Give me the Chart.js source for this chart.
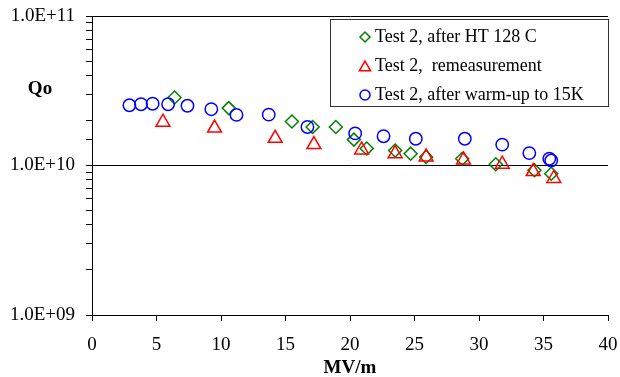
<!DOCTYPE html>
<html>
<head>
<meta charset="utf-8">
<script src="https://cdn.jsdelivr.net/npm/chart.js@4/dist/chart.umd.min.js"></script>
<style>
  html, body { margin:0; padding:0; background:#fff; }
  #c { display:block; }
</style>
</head>
<body>
<canvas id="c" width="620" height="377"></canvas>
<script>
// Test 2, after HT 128 C
const htX = [6.4, 10.6, 15.5, 17.1, 18.9, 20.3, 21.3, 23.5, 24.7, 25.9, 28.7, 31.3, 34.3, 35.6];
const htQ = [2.85e10, 2.42e10, 1.97e10, 1.81e10, 1.81e10, 1.49e10, 1.30e10, 1.26e10, 1.20e10, 1.14e10, 1.11e10, 1.02e10, 9.3e9, 8.8e9];
// Test 2, remeasurement
const remX = [5.5, 9.5, 14.2, 17.2, 20.9, 23.5, 25.9, 28.8, 31.8, 34.2, 35.8];
const remQ = [1.95e10, 1.78e10, 1.52e10, 1.38e10, 1.27e10, 1.20e10, 1.14e10, 1.09e10, 1.02e10, 9.1e9, 8.2e9];
// Test 2, after warm-up to 15K
const wuX = [2.9, 3.8, 4.7, 5.9, 7.4, 9.25, 11.2, 13.7, 16.7, 20.4, 22.6, 25.1, 28.9, 31.8, 33.9, 35.45, 35.6];
const wuQ = [2.53e10, 2.57e10, 2.59e10, 2.57e10, 2.51e10, 2.38e10, 2.18e10, 2.19e10, 1.81e10, 1.64e10, 1.57e10, 1.51e10, 1.51e10, 1.38e10, 1.21e10, 1.11e10, 1.08e10];

const seriesLabels = ['Test 2, after HT 128 C', 'Test 2,  remeasurement', 'Test 2, after warm-up to 15K'];
const xTicks = [0, 5, 10, 15, 20, 25, 30, 35, 40];

const FONT = "'Liberation Serif', 'Times New Roman', serif";
const pts = (xs, ys) => xs.map((x, i) => ({ x, y: ys[i] }));
const isDecade = v => Math.abs(Math.log10(v) - Math.round(Math.log10(v))) < 1e-9;
// Excel style: 1.0E+09
const sci = v => {
  const e = Math.round(Math.log10(v));
  return (v / Math.pow(10, e)).toFixed(1) + 'E+' + String(e).padStart(2, '0');
};

const legendMarks = [
  { style:'rectRot', color:'#008000', r:5 },
  { style:'triangle', color:'#ff0000', r:6.5 },
  { style:'circle', color:'#0000ff', r:5 }
];

const overlay = {
  id: 'overlay',
  afterDraw(chart) {
    const ctx = chart.ctx;
    ctx.save();
    // y label
    ctx.fillStyle = '#000';
    ctx.font = "bold 19px " + FONT;
    ctx.textAlign = 'center'; ctx.textBaseline = 'middle';
    ctx.fillText('Qo', 40, 89);
    // legend box
    ctx.fillStyle = '#fff';
    ctx.fillRect(330, 19, 279, 88);
    ctx.strokeStyle = '#333'; ctx.lineWidth = 1;
    ctx.strokeRect(330.5, 19.5, 278, 87);
    ctx.font = "18px " + FONT;
    ctx.textAlign = 'left';
    seriesLabels.forEach((lab, i) => {
      const y = 37 + i * 29;
      const m = legendMarks[i];
      ctx.strokeStyle = m.color; ctx.fillStyle = 'rgba(0,0,0,0)'; ctx.lineWidth = 1.5;
      Chart.helpers.drawPoint(ctx, { pointStyle:m.style, radius:m.r, rotation:0, borderWidth:1.5 }, 365, y + (m.style === 'triangle' ? 1.5 : 0));
      ctx.fillStyle = '#000';
      ctx.fillText(lab, 375, y);
    });
    ctx.restore();
  }
};

new Chart(document.getElementById('c'), {
  type: 'scatter',
  data: {
    datasets: [
      { label:seriesLabels[0], data:pts(htX, htQ), pointStyle:'rectRot', pointRadius:6.5, borderColor:'#008000', backgroundColor:'rgba(0,0,0,0)', borderWidth:1.5, order:3 },
      { label:seriesLabels[1], data:pts(remX, remQ), pointStyle:'triangle', pointRadius:8, borderColor:'#ff0000', backgroundColor:'rgba(0,0,0,0)', borderWidth:1.5, order:2 },
      { label:seriesLabels[2], data:pts(wuX, wuQ), pointStyle:'circle', pointRadius:6.2, borderColor:'#0000ff', backgroundColor:'rgba(0,0,0,0)', borderWidth:1.5, order:1 }
    ]
  },
  options: {
    responsive:false, animation:false,
    layout: { padding: { top:16, right:12, left:0, bottom:0 } },
    plugins: { legend:{display:false}, tooltip:{enabled:false} },
    scales: {
      x: {
        type:'linear', min:0, max:40,
        afterBuildTicks: s => { s.ticks = xTicks.map(v => ({ value:v })); },
        afterFit: s => { s.height = 62; s.paddingLeft = 0; s.paddingRight = 0; },
        border: { color:'#000', width:1 },
        grid: { drawOnChartArea:false, tickLength:6, tickColor:'#000' },
        ticks: { color:'#000', font:{ family:FONT, size:19 }, padding:13, maxRotation:0 },
        title: { display:true, text:'MV/m', color:'#000', font:{ family:FONT, size:19, weight:'bold' }, padding:{ top:0, bottom:-2 } }
      },
      y: {
        type:'logarithmic', min:1e9, max:1e11,
        afterFit: s => { s.width = 92; s.paddingTop = 0; s.paddingBottom = 0; },
        border: { color:'#000', width:1 },
        grid: {
          tickLength:6, tickColor:'#000',
          color: c => (c.tick && isDecade(c.tick.value)) ? '#000' : 'rgba(0,0,0,0)'
        },
        ticks: {
          autoSkip:false, color:'#000', font:{ family:FONT, size:19 }, padding:11,
          callback: v => isDecade(v) ? sci(v) : ''
        }
      }
    }
  },
  plugins: [overlay]
});
</script>
</body>
</html>
